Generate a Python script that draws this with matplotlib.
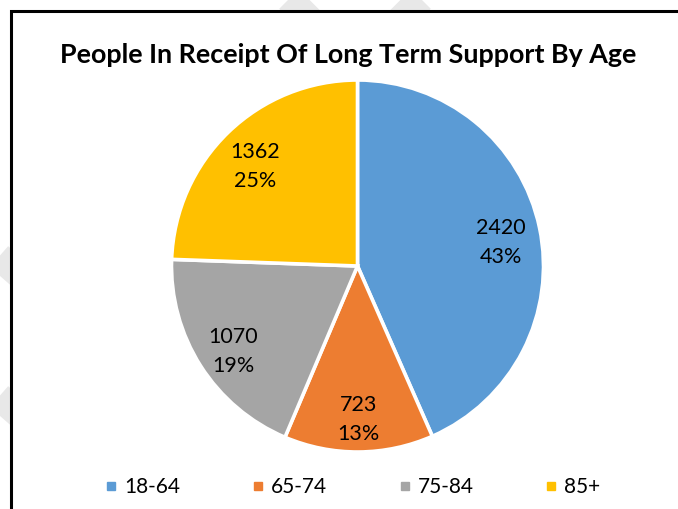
import matplotlib
matplotlib.use('Agg')
import matplotlib.pyplot as plt
from matplotlib.lines import Line2D
from matplotlib.patches import Rectangle

# data
ages = ['18-64', '65-74', '75-84', '85+']
people = [2420, 723, 1070, 1362]
pct_labels = ['43%', '13%', '19%', '25%']
colors = ['#5B9BD5', '#ED7D31', '#A5A5A5', '#FFC000']
title = 'People In Receipt Of Long Term Support By Age'

plt.rcParams['font.family'] = ['Lato', 'DejaVu Sans']

W, H = 678, 509
fig = plt.figure(figsize=(W / 100, H / 100), dpi=100)

# faint watermark bands, mostly hidden behind the chart area
for x0, y0, x1, y1 in [(250, -40, 420, 130), (460, -40, 290, 130),
                       (-60, 205, 60, 310), (-60, 345, 60, 450)]:
    fig.add_artist(Line2D([x0 / W, x1 / W], [1 - y0 / H, 1 - y1 / H],
                          color='#e8e8e8', lw=20, solid_capstyle='butt',
                          transform=fig.transFigure, zorder=0))

# chart area with black frame (runs off right and bottom edges)
fig.add_artist(Rectangle((11 / W, -0.05), 1.1, 1 - 11 / H + 0.05,
                         transform=fig.transFigure, facecolor='white',
                         edgecolor='black', lw=2.2, zorder=1))

cx, cy, R = 357.5, 266, 186
ax = fig.add_axes([(cx - R) / W, (H - cy - R) / H, 2 * R / W, 2 * R / H])
ax.set_zorder(2)

counter = {'i': 0}
def fmt(p):
    i = counter['i']
    counter['i'] += 1
    return '%d\n%s' % (people[i], pct_labels[i])

wedges, texts, autotexts = ax.pie(people, colors=colors, startangle=90,
                                  counterclock=False, autopct=fmt,
                                  pctdistance=0.79,
                                  wedgeprops=dict(edgecolor='white', linewidth=2.6),
                                  textprops=dict(fontsize=15.5, color='black'))
for t in autotexts:
    t.set_linespacing(1.55)
    t.set_multialignment('center')
    x, y = t.get_position()
    t.set_position((x, y - 0.035))   # Excel sits the labels a touch lower
ax.set_xlim(-1, 1)
ax.set_ylim(-1, 1)
ax.set_aspect('equal')
ax.axis('off')

fig.text(348 / W, 1 - 55 / H, title, ha='center', va='center',
         fontsize=19.4, fontweight='bold', zorder=3)

handles = [Line2D([], [], marker='s', linestyle='none', markersize=5.5,
                  markerfacecolor=c, markeredgecolor=c) for c in colors]
leg = fig.legend(handles, ages, loc='center', ncol=4, frameon=False,
                 bbox_to_anchor=(354 / W, 1 - 487 / H), fontsize=15,
                 handlelength=0.35, handletextpad=0.45, columnspacing=3.55)
leg.set_zorder(3)

fig.savefig('out.png', dpi=100)
